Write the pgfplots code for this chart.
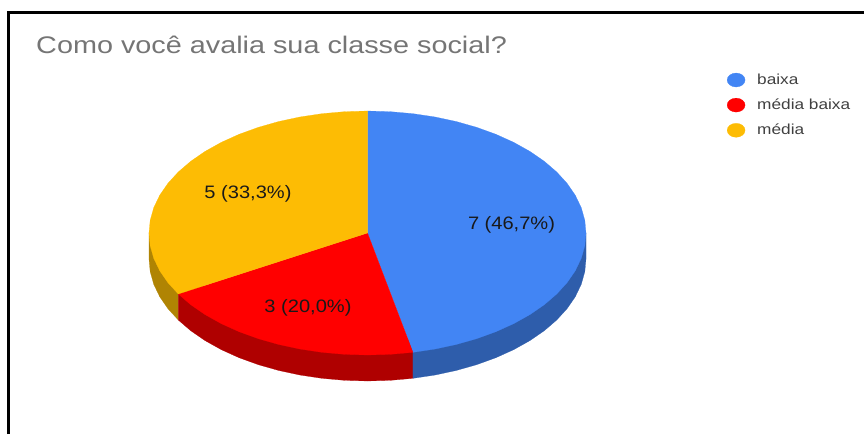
\documentclass[border=0pt]{standalone}
\usepackage{fontspec}
\setmainfont{Liberation Sans}
\usepackage{graphicx}
\usepackage{pgfplots}
\pgfplotsset{compat=1.18}

\definecolor{gblue}{HTML}{4285F4}
\definecolor{gred}{HTML}{FF0000}
\definecolor{gyellow}{HTML}{FDBC04}
\definecolor{gbluedark}{HTML}{2E5DAB}
\definecolor{greddark}{HTML}{AF0000}
\definecolor{gyellowdark}{HTML}{B08403}

\newcommand{\wide}[1]{\scalebox{1.19}[1]{#1}}

\begin{document}
% slices: baixa 7, media baixa 3, media 5 (of 15); outlines in picture pixels
\begin{tikzpicture}
\begin{axis}[
    scale only axis,
    width=864pt, height=434pt,
    xmin=0, xmax=864, ymin=0, ymax=434,
    y dir=reverse,
    ticks=none,
    axis line style={draw=none},
    legend style={at={(axis cs:727,72)}, anchor=north west, draw=none, fill=none,
        font=\fontsize{14.5pt}{14.5pt}\selectfont, text=black!75,
        row sep=9pt, inner sep=0pt, outer sep=0pt},
    legend cell align=left,
    legend image code/.code={\fill[#1] (9pt,0pt) ellipse[x radius=9pt, y radius=7pt]; \path (28pt,0pt);},
]
% frame
\addplot[forget plot, black, line width=3pt] coordinates {(8.5,434) (8.5,12.5) (864,12.5)};

% side walls, upper edge is hidden below the top face
\addplot[forget plot, fill=gyellowdark, draw=gyellowdark, line width=0.2pt] coordinates {
    (178.27,320) (167.89,308.62) (159.69,296.70) (153.77,284.36) (150.20,271.75) (149,259)
    (149,233) (178.27,280)} -- cycle;
\addplot[forget plot, fill=greddark, draw=greddark, line width=0.2pt] coordinates {
    (412.93,378.33) (390.34,380.33) (367.5,381) (344.66,380.33) (322.07,378.33) (299.98,375.03)
    (278.63,370.45) (258.25,364.65) (239.07,357.70) (221.30,349.66) (205.12,340.63) (190.73,330.71)
    (178.27,320) (178.27,280) (412.93,340)} -- cycle;
\addplot[forget plot, fill=gbluedark, draw=gbluedark, line width=0.2pt] coordinates {
    (586,233) (586,259) (584.80,271.75) (581.23,284.36) (575.31,296.70) (567.11,308.62)
    (556.73,320) (544.27,330.71) (529.88,340.63) (513.70,349.66) (495.93,357.70) (476.75,364.65)
    (456.37,370.45) (435.02,375.03) (412.93,378.33) (412.93,340)} -- cycle;

% top faces
\addplot[fill=gblue, draw=gblue, line width=0.2pt] coordinates {
    (367.5,233) (367.5,111) (390.34,111.67) (412.93,113.67) (435.02,116.97) (456.37,121.55)
    (476.75,127.35) (495.93,134.30) (513.70,142.34) (529.88,151.37) (544.27,161.29) (556.73,172)
    (567.11,183.38) (575.31,195.30) (581.23,207.64) (584.80,220.25) (586,233) (584.80,245.75)
    (581.23,258.36) (575.31,270.70) (567.11,282.62) (556.73,294) (544.27,304.71) (529.88,314.63)
    (513.70,323.66) (495.93,331.70) (476.75,338.65) (456.37,344.45) (435.02,349.03) (412.93,352.33)} -- cycle;
\addlegendentry{\wide{baixa}}
\addplot[fill=gred, draw=gred, line width=0.2pt] coordinates {
    (367.5,233) (412.93,352.33) (390.34,354.33) (367.5,355) (344.66,354.33) (322.07,352.33)
    (299.98,349.03) (278.63,344.45) (258.25,338.65) (239.07,331.70) (221.30,323.66) (205.12,314.63)
    (190.73,304.71) (178.27,294)} -- cycle;
\addlegendentry{\wide{média baixa}}
\addplot[fill=gyellow, draw=gyellow, line width=0.2pt] coordinates {
    (367.5,233) (178.27,294) (167.89,282.62) (159.69,270.70) (153.77,258.36) (150.20,245.75)
    (149,233) (150.20,220.25) (153.77,207.64) (159.69,195.30) (167.89,183.38) (178.27,172)
    (190.73,161.29) (205.12,151.37) (221.30,142.34) (239.07,134.30) (258.25,127.35) (278.63,121.55)
    (299.98,116.97) (322.07,113.67) (344.66,111.67) (367.5,111)} -- cycle;
\addlegendentry{\wide{média}}

% title and slice labels
\node[anchor=base west, inner sep=0pt, text=black!54, xscale=1.2, font=\fontsize{24pt}{24pt}\selectfont]
    at (axis cs:36,53) {Como você avalia sua classe social?};
\node[text=black!90, xscale=1.115, font=\fontsize{18pt}{18pt}\selectfont] at (axis cs:511.5,225) {7 (46,7\%)};
\node[text=black!90, xscale=1.115, font=\fontsize{18pt}{18pt}\selectfont] at (axis cs:308,308) {3 (20,0\%)};
\node[text=black!90, xscale=1.115, font=\fontsize{18pt}{18pt}\selectfont] at (axis cs:248,194) {5 (33,3\%)};
\end{axis}
\end{tikzpicture}
\end{document}
